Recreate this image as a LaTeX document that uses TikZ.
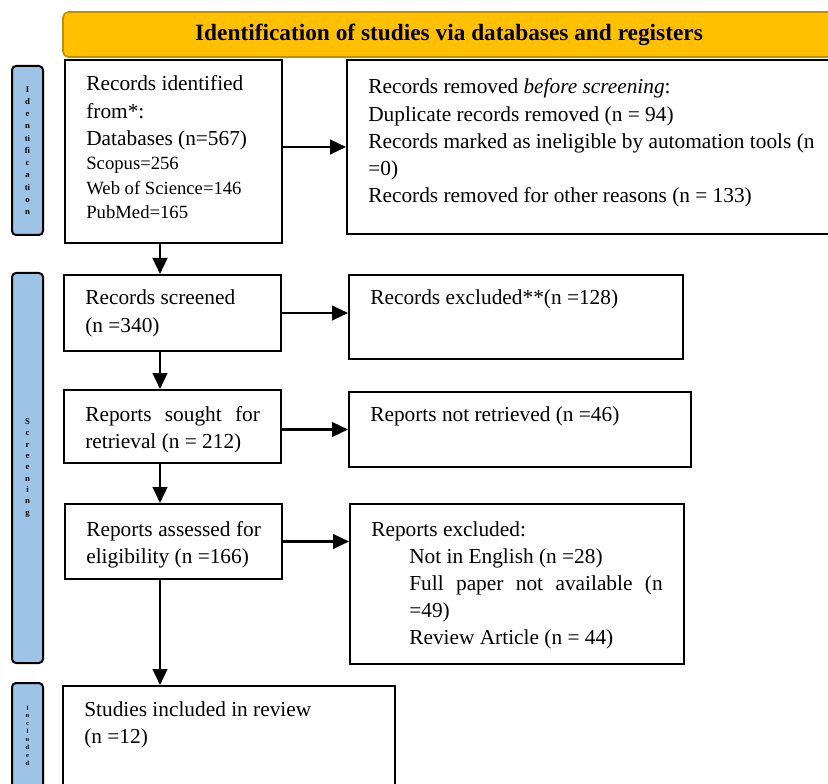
\documentclass[tikz,border=0pt]{standalone}
\usepackage{fontspec}
\setmainfont{Liberation Serif}
\usetikzlibrary{arrows.meta, positioning}
\definecolor{headgold}{HTML}{FFC000}
\definecolor{headgoldline}{HTML}{BF9000}
\definecolor{phaseblue}{HTML}{9DC3E6}
\tikzset{
	flowbox/.style={draw, line width=1.5pt, anchor=north west, inner xsep=16pt, inner ysep=0pt,
		align=flush left, font=\fontsize{16}{20.4}\selectfont},
	phasebar/.style={draw, fill=phaseblue, line width=1.5pt, rounded corners=3pt,
		minimum width=23.25pt, inner sep=0pt, align=center},
	headbar/.style={draw=headgoldline, fill=headgold, line width=1.2pt, rounded corners=4pt,
		inner sep=0pt, font=\fontsize{17.5}{21}\selectfont\bfseries}
}
\begin{document}
\begin{tikzpicture}[x=0.75pt, y=-0.75pt, >={Triangle[length=12pt,width=11pt]},
		flow/.style={->, line width=1.8pt}]
	\clip (0,0) rectangle (828,784);

	% phase bars on the left
	\node[phasebar, minimum height=126.75pt, font=\fontsize{6.5}{9.2}\selectfont\bfseries] (idbar) at (27.5,150.5)
		{I\\d\\e\\n\\ti\\fi\\c\\a\\ti\\o\\n};
	\node[phasebar, minimum height=292.5pt, font=\fontsize{6.5}{8.5}\selectfont\bfseries] (screenbar) at (27.5,468)
		{S\\c\\r\\e\\e\\n\\i\\n\\g};
	\node[phasebar, minimum height=78.75pt, font=\fontsize{4.8}{5.9}\selectfont\bfseries] (inclbar) at (27.5,735.5)
		{I\\n\\c\\l\\u\\d\\e\\d};

	% heading
	\node[headbar, minimum width=579pt, minimum height=33.75pt] (head) at (449,34.5)
		{Identification of studies via databases and registers};

	% main column
	\node[flowbox, text width=131pt, text height=23.25pt, text depth=114pt] (identified) at (64,59)
		{Records identified\\ from*:\\ Databases (n=567)\par
		{\fontsize{14}{18.4}\selectfont Scopus=256\\ Web of Science=146\\ PubMed=165\par}};
	\node[flowbox, text width=131pt, text height=22.5pt, text depth=34.5pt] (screened) at (63,274)
		{Records screened\\ (n =340)};
	\node[flowbox, align=justify, text width=131pt, text height=23.25pt, text depth=31.5pt] (sought) at (63,389)
		{Reports sought for\linebreak retrieval (n = 212)};
	\node[flowbox, align=justify, text width=131pt, text height=24pt, text depth=32.25pt] (assessed) at (64,503)
		{Reports assessed for\linebreak eligibility (n =166)};
	\node[flowbox, text width=217pt, text height=22.5pt, text depth=75pt] (included) at (62,685)
		{Studies included in review\\ (n =12)};

	% side column
	\node[flowbox, text width=350pt, text height=25.5pt, text depth=105pt] (removed) at (346,59)
		{Records removed \textit{before screening}:\\ Duplicate records removed (n = 94)\\
		Records marked as ineligible by automation tools (n\\ =0)\\
		Records removed for other reasons (n = 133)};
	\node[flowbox, text width=218.5pt, text height=22.5pt, text depth=40.5pt] (excluded) at (348,274)
		{Records excluded**(n =128)};
	\node[flowbox, text width=224.5pt, text height=21.75pt, text depth=34.5pt] (notretr) at (348,391)
		{Reports not retrieved (n =46)};
	\node[flowbox, text width=218.5pt, text height=24pt, text depth=96pt] (repexcl) at (349,503)
		{Reports excluded:\\
		\hspace*{28.5pt}\parbox[t]{190pt}{Not in English (n =28)\\
		Full paper not available (n\linebreak =49)\\ Review Article (n = 44)}};

	% connectors
	\coordinate (spine) at (160,0);
	\draw[flow] (identified.south -| spine) -- (screened.north -| spine);
	\draw[flow] (screened.south -| spine) -- (sought.north -| spine);
	\draw[flow] (sought.south -| spine) -- (assessed.north -| spine);
	\draw[flow] (assessed.south -| spine) -- (included.north -| spine);
	\draw[flow] (identified.east |- removed.west) -- (removed.west);
	\draw[flow] (screened.east) -- (screened.east -| excluded.west);
	\draw[flow] (sought.east |- notretr.west) -- (notretr.west);
	\draw[flow] (assessed.east) -- (assessed.east -| repexcl.west);
\end{tikzpicture}
\end{document}
